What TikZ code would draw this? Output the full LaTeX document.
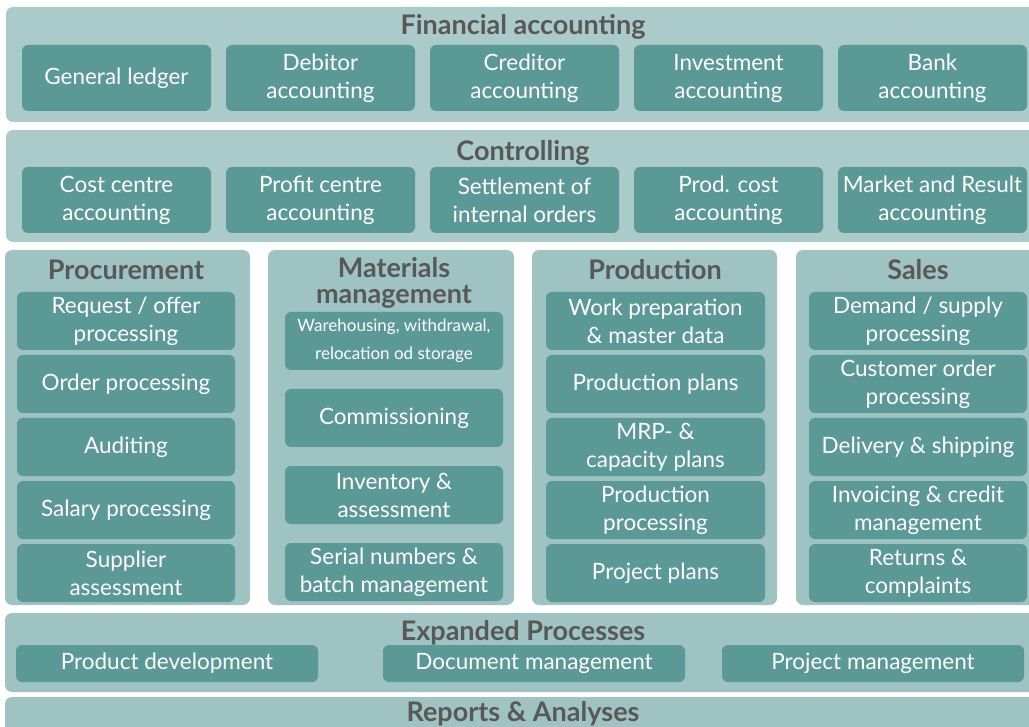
\documentclass[tikz,border=0pt]{standalone}
\usepackage{fontspec}
\setmainfont{Lato}
\definecolor{bandlight}{RGB}{170,203,202}
\definecolor{bandmid}{RGB}{158,195,194}
\definecolor{boxteal}{RGB}{91,153,151}
\definecolor{titlegray}{RGB}{88,88,88}
\def\boxwidth{189pt}

\begin{document}
\begin{tikzpicture}[x=1pt,y=-1pt]
      \tikzstyle{band}=[rounded corners=7pt]
      \tikzstyle{box}=[rectangle,rounded corners=6pt,fill=boxteal,text=white,align=center,inner sep=0pt,font=\fontsize{22.5}{28}\selectfont]
      \tikzstyle{wide box}=[box,minimum width=\boxwidth,minimum height=66pt]
      \tikzstyle{col box}=[box,minimum width=218pt,minimum height=58pt]
      \tikzstyle{flat box}=[box,minimum width=302pt,minimum height=37pt]
      \tikzstyle{heading}=[text=titlegray,align=center,inner sep=0pt,font=\bfseries\fontsize{27}{26}\selectfont]

      \clip (0,0) rectangle (1029,727);

      % Draw the bands and columns
      \fill[band,bandlight] (6,7) rectangle (1040,122);
      \fill[band,bandlight] (6,130) rectangle (1040,242);
      \fill[band,bandmid] (5,250) rectangle (250,605);
      \fill[band,bandmid] (268,250) rectangle (514,605);
      \fill[band,bandmid] (532,250) rectangle (777,605);
      \fill[band,bandmid] (796,250) rectangle (1040,605);
      \fill[band,bandmid] (5,613) rectangle (1040,692);
      \fill[band,bandmid] (5,697) rectangle (1040,740);

      % Headings
      \node[heading] (fin) at (523,27) {Financial accounting};
      \node[heading] (ctl) at (523,153) {Controlling};
      \node[heading] (proc) at (126,270) {Procurement};
      \node[heading] (mat) at (394,283) {Materials\\management};
      \node[heading] (prod) at (655,270) {Production};
      \node[heading] (sales) at (918,270) {Sales};
      \node[heading] (exp) at (523,633) {Expanded Processes};
      \node[heading] (rep) at (523,714) {Reports \& Analyses};

      % Financial accounting modules
      \foreach \name/\x/\txt in {1/116.5/{General ledger},2/320.5/{Debitor\\accounting},
          3/524.5/{Creditor\\accounting},4/728.5/{Investment\\accounting},5/932.5/{Bank\\accounting}}
          \node[wide box] (fin-\name) at (\x,78) {\txt};

      % Controlling modules
      \foreach \name/\x/\txt in {1/116.5/{Cost centre\\accounting},2/320.5/{Profit centre\\accounting},
          3/524.5/{Settlement of\\internal orders},4/728.5/{Prod. cost\\accounting},5/932.5/{Market and Result\\accounting}}
          \node[wide box] (ctl-\name) at (\x,200) {\txt};

      % Procurement
      \foreach \name/\y/\txt in {1/321/{Request / offer\\processing},2/384/{Order processing},
          3/447/{Auditing},4/510/{Salary processing},5/573/{Supplier\\assessment}}
          \node[col box] (proc-\name) at (126,\y) {\txt};

      % Materials management
      \node[col box,font=\fontsize{17}{28}\selectfont] (mat-1) at (394,341) {Warehousing, withdrawal,\\relocation od storage};
      \foreach \name/\y/\txt in {2/418/{Commissioning},3/495/{Inventory \&\\assessment},
          4/572/{Serial numbers \&\\batch management}}
          \node[col box] (mat-\name) at (394,\y) {\txt};

      % Production
      \foreach \name/\y/\txt in {1/321/{Work preparation\\\& master data},2/384/{Production plans},
          3/447/{MRP- \&\\capacity plans},4/510/{Production\\processing},5/573/{Project plans}}
          \node[col box,minimum width=219pt] (prod-\name) at (655.5,\y) {\txt};

      % Sales
      \foreach \name/\y/\txt in {1/321/{Demand / supply\\processing},2/384/{Customer order\\processing},
          3/447/{Delivery \& shipping},4/510/{Invoicing \& credit\\management},5/573/{Returns \&\\complaints}}
          \node[col box] (sales-\name) at (918,\y) {\txt};

      % Expanded processes
      \foreach \name/\x/\txt in {1/167/{Product development},2/534/{Document management},3/873/{Project management}}
          \node[flat box] (exp-\name) at (\x,663.5) {\txt};
\end{tikzpicture}
\end{document}
